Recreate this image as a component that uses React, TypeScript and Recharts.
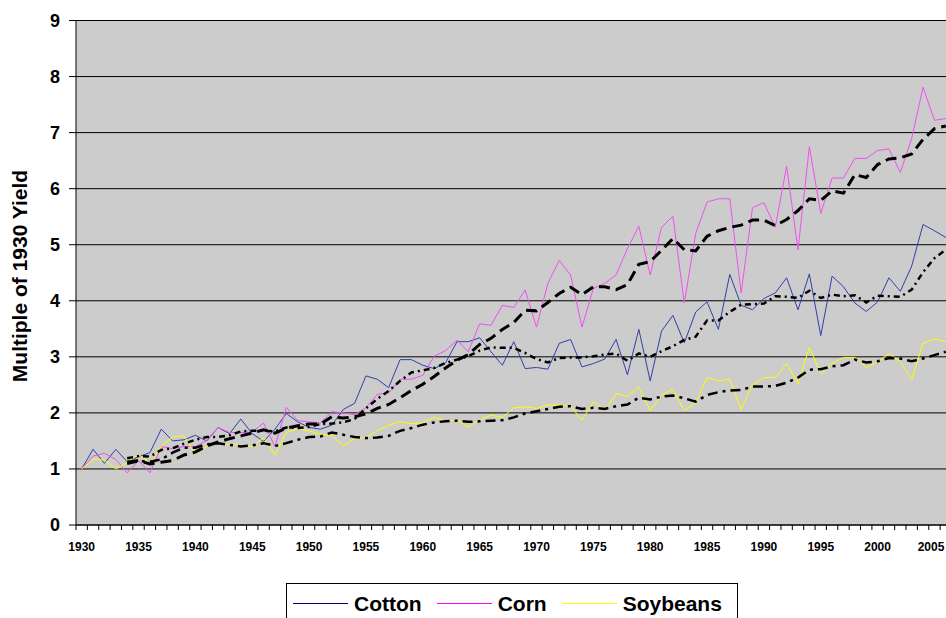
import { LineChart, Line, XAxis, YAxis, CartesianGrid, Label } from "recharts";

const years = Array.from({ length: 77 }, (_, i) => 1930 + i);

const cotton = [
  1.0, 1.35, 1.1, 1.35, 1.13, 1.22, 1.29, 1.71, 1.5, 1.52,
  1.6, 1.5, 1.74, 1.63, 1.89, 1.63, 1.49, 1.71, 1.99, 1.84,
  1.74, 1.71, 1.78, 2.06, 2.17, 2.66, 2.6, 2.45, 2.95, 2.95,
  2.85, 2.79, 2.89, 3.27, 3.27, 3.34, 3.09, 2.85, 3.27, 2.79,
  2.81, 2.78, 3.24, 3.31, 2.82, 2.88, 2.96, 3.31, 2.68, 3.49,
  2.57, 3.46, 3.74, 3.25, 3.8, 3.98, 3.49, 4.47, 3.92, 3.84,
  4.04, 4.14, 4.41, 3.84, 4.48, 3.38, 4.44, 4.25, 3.96, 3.81,
  3.98, 4.41, 4.17, 4.62, 5.36, 5.25, 5.13,
];

const corn = [
  1.0, 1.23, 1.28, 1.17, 0.93, 1.15, 0.93, 1.4, 1.36, 1.4,
  1.4, 1.51, 1.74, 1.65, 1.65, 1.66, 1.82, 1.4, 2.1, 1.86,
  1.84, 1.82, 2.02, 2.0, 1.97, 2.09, 2.33, 2.36, 2.6, 2.6,
  2.67, 3.01, 3.11, 3.3, 3.09, 3.59, 3.56, 3.92, 3.88, 4.19,
  3.53, 4.31, 4.72, 4.46, 3.53, 4.22, 4.31, 4.46, 4.93, 5.33,
  4.46, 5.31, 5.51, 3.96, 5.2, 5.76, 5.82, 5.82, 4.14, 5.66,
  5.75, 5.31, 6.4, 4.91, 6.75, 5.56, 6.19, 6.19, 6.54, 6.54,
  6.68, 6.71, 6.29, 6.9, 7.81, 7.22, 7.25,
];

const soybeans = [
  1.0, 1.17, 1.16, 1.0, 1.11, 1.26, 1.1, 1.4, 1.57, 1.59,
  1.26, 1.4, 1.46, 1.44, 1.42, 1.4, 1.56, 1.25, 1.65, 1.72,
  1.68, 1.62, 1.6, 1.41, 1.54, 1.56, 1.68, 1.78, 1.84, 1.81,
  1.82, 1.92, 1.86, 1.87, 1.75, 1.87, 1.96, 1.92, 2.09, 2.11,
  2.08, 2.14, 2.14, 2.12, 1.87, 2.2, 2.04, 2.35, 2.29, 2.46,
  2.04, 2.32, 2.42, 2.04, 2.18, 2.63, 2.57, 2.6, 2.06, 2.5,
  2.63, 2.63, 2.88, 2.52, 3.17, 2.7, 2.88, 2.99, 2.99, 2.81,
  2.91, 3.06, 2.91, 2.6, 3.24, 3.32, 3.27,
];

// dashed black trend lines, starting in 1934
const cottonTrend = [
  null, null, null, null,
  1.19, 1.23, 1.22, 1.34, 1.37, 1.45, 1.52, 1.57, 1.57, 1.6,
  1.67, 1.68, 1.68, 1.67, 1.74, 1.73, 1.75, 1.8, 1.81, 1.83,
  1.89, 2.08, 2.25, 2.39, 2.57, 2.72, 2.76, 2.8, 2.89, 2.95,
  3.01, 3.11, 3.17, 3.16, 3.16, 3.07, 2.96, 2.9, 2.98, 2.99,
  2.99, 3.01, 3.04, 3.06, 2.93, 3.06, 3.0, 3.1, 3.19, 3.3,
  3.36, 3.65, 3.65, 3.8, 3.93, 3.94, 3.95, 4.08, 4.07, 4.05,
  4.18, 4.05, 4.11, 4.08, 4.1, 3.97, 4.09, 4.08, 4.07, 4.2,
  4.51, 4.76, 4.91,
];

const cornTrend = [
  null, null, null, null,
  1.12, 1.15, 1.09, 1.12, 1.15, 1.25, 1.3, 1.41, 1.48, 1.54,
  1.59, 1.64, 1.7, 1.64, 1.73, 1.77, 1.8, 1.8, 1.93, 1.91,
  1.93, 1.98, 2.08, 2.15, 2.27, 2.4, 2.51, 2.65, 2.8, 2.94,
  3.04, 3.22, 3.33, 3.49, 3.61, 3.83, 3.82, 3.97, 4.13, 4.24,
  4.11, 4.25, 4.25, 4.2, 4.29, 4.65, 4.7, 4.9, 5.11, 4.91,
  4.89, 5.15, 5.25, 5.31, 5.35, 5.44, 5.44, 5.34, 5.45, 5.61,
  5.82, 5.79, 5.96, 5.92, 6.25, 6.2, 6.43, 6.53, 6.55, 6.62,
  6.88, 7.07, 7.12,
];

const soybeanTrend = [
  null, null, null, null,
  1.09, 1.14, 1.13, 1.17, 1.29, 1.38, 1.38, 1.44, 1.46, 1.43,
  1.4, 1.42, 1.46, 1.41, 1.46, 1.52, 1.57, 1.58, 1.65, 1.61,
  1.57, 1.55, 1.56, 1.59, 1.68, 1.73, 1.79, 1.83, 1.85, 1.86,
  1.84, 1.85, 1.86, 1.87, 1.92, 1.99, 2.03, 2.07, 2.11, 2.12,
  2.07, 2.09, 2.07, 2.12, 2.15, 2.27, 2.24, 2.29, 2.31, 2.26,
  2.2, 2.32, 2.37, 2.4, 2.41, 2.47, 2.47, 2.48, 2.54, 2.63,
  2.77, 2.78, 2.83, 2.85, 2.95, 2.9, 2.92, 2.98, 2.97, 2.92,
  2.97, 3.03, 3.09,
];

const yTicks = [0, 1, 2, 3, 4, 5, 6, 7, 8, 9];

const seriesNames = ["Cotton", "Corn", "Soybeans"];
const legendColors = ["#000080", "#FF00FF", "#FFFF00"];
const lineColors = ["#3040A8", "#F050F0", "#FFFF00"];

const data = years.map((year, i) => ({
  year,
  cotton: cotton[i],
  corn: corn[i],
  soybeans: soybeans[i],
  cottonTrend: cottonTrend[i],
  cornTrend: cornTrend[i],
  soybeanTrend: soybeanTrend[i],
}));

const FONT = "'Liberation Sans', Arial, Helvetica, sans-serif";
const STEP = 11.37;
const AXIS_Y = 525;
const VIEW_W = 946;

function YearTick(props: any) {
  const { x, payload } = props;
  const year = payload.value;
  // keep the last label inside the visible page
  const labelX = Math.min(x, VIEW_W - 15);
  return (
    <g>
      <line
        x1={x - STEP / 2}
        x2={x - STEP / 2}
        y1={AXIS_Y}
        y2={AXIS_Y + 5}
        stroke="#000"
      />
      {year % 5 === 0 && (
        <text
          x={labelX}
          y={AXIS_Y + 26}
          textAnchor="middle"
          fontFamily={FONT}
          fontSize={12}
          fontWeight="bold"
          fill="#000"
        >
          {year}
        </text>
      )}
    </g>
  );
}

function ChartLegend() {
  return (
    <div
      style={{
        position: "absolute",
        left: 286,
        top: 583,
        width: 452,
        height: 44,
        border: "1px solid #000",
        background: "#fff",
        display: "flex",
        alignItems: "flex-start",
        paddingLeft: 6,
        paddingTop: 8,
        boxSizing: "border-box",
        fontFamily: FONT,
        fontSize: 21,
        fontWeight: "bold",
        lineHeight: "24px",
      }}
    >
      {seriesNames.map((name, i) => (
        <div
          key={name}
          style={{ display: "flex", alignItems: "flex-start", marginRight: 15 }}
        >
          <div
            style={{
              width: 55,
              height: 1,
              background: legendColors[i],
              marginTop: 11,
              marginRight: 6,
            }}
          />
          <span>{name}</span>
        </div>
      ))}
    </div>
  );
}

export default function App() {
  return (
    <div
      style={{
        position: "fixed",
        left: 0,
        top: 0,
        width: VIEW_W,
        height: 618,
        overflow: "hidden",
        background: "#fff",
      }}
    >
      <LineChart
        width={960}
        height={618}
        data={data}
        margin={{ top: 20.5, right: 8.5, bottom: 63, left: 0 }}
      >
        <CartesianGrid
          vertical={false}
          stroke="#000"
          fill="#CCCCCC"
          fillOpacity={1}
        />
        <XAxis
          dataKey="year"
          interval={0}
          height={30}
          padding={{ left: STEP / 2, right: STEP / 2 }}
          axisLine={{ stroke: "#000" }}
          tickLine={false}
          tick={<YearTick />}
        />
        <YAxis
          width={76}
          domain={[0, 9]}
          ticks={yTicks}
          interval={0}
          axisLine={{ stroke: "#000" }}
          tickLine={{ stroke: "#000" }}
          tickSize={7}
          tickMargin={9}
          tick={{
            fontSize: 18,
            fontWeight: "bold",
            fill: "#000",
            fontFamily: FONT,
          }}
        >
          <Label
            content={() => (
              <text
                transform="translate(27, 276) rotate(-90)"
                textAnchor="middle"
                fontFamily={FONT}
                fontSize={21}
                fontWeight="bold"
                fill="#000"
              >
                Multiple of 1930 Yield
              </text>
            )}
          />
        </YAxis>
        <Line
          type="linear"
          dataKey="cotton"
          stroke={lineColors[0]}
          strokeWidth={1}
          dot={false}
          isAnimationActive={false}
        />
        <Line
          type="linear"
          dataKey="corn"
          stroke={lineColors[1]}
          strokeWidth={1}
          dot={false}
          isAnimationActive={false}
        />
        <Line
          type="linear"
          dataKey="soybeans"
          stroke={lineColors[2]}
          strokeWidth={1}
          dot={false}
          isAnimationActive={false}
        />
        <Line
          type="linear"
          dataKey="cottonTrend"
          stroke="#000"
          strokeWidth={2.5}
          strokeDasharray="6 4 2 4"
          dot={false}
          legendType="none"
          isAnimationActive={false}
        />
        <Line
          type="linear"
          dataKey="cornTrend"
          stroke="#000"
          strokeWidth={3}
          strokeDasharray="11 6"
          dot={false}
          legendType="none"
          isAnimationActive={false}
        />
        <Line
          type="linear"
          dataKey="soybeanTrend"
          stroke="#000"
          strokeWidth={2.5}
          strokeDasharray="10 5 3 5"
          dot={false}
          legendType="none"
          isAnimationActive={false}
        />
      </LineChart>
      <ChartLegend />
    </div>
  );
}
